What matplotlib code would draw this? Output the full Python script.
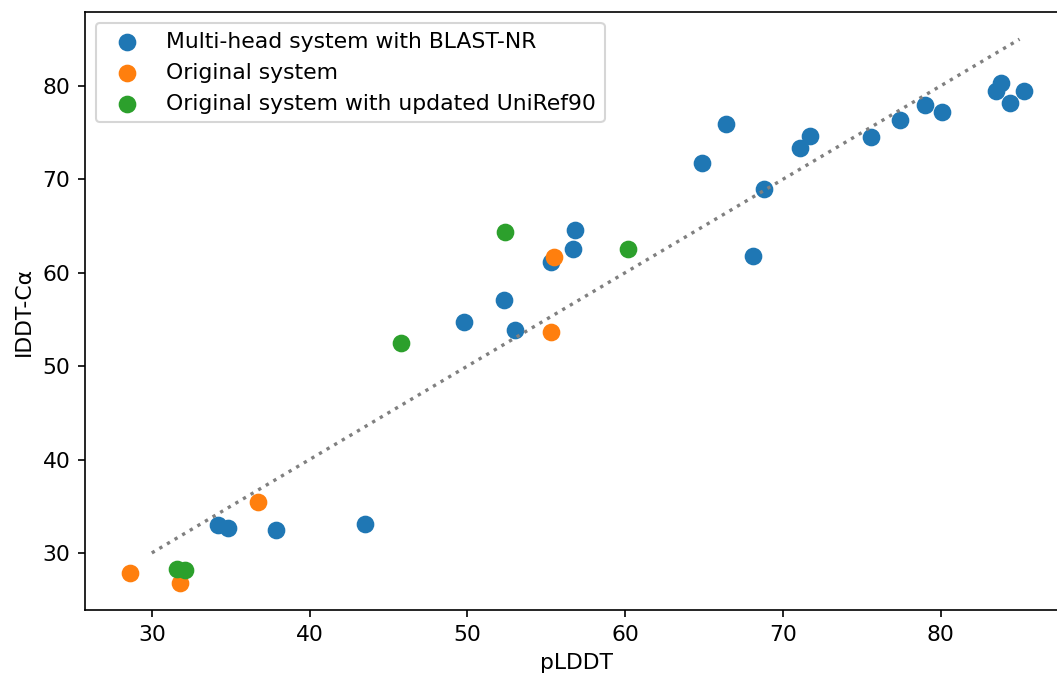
import matplotlib
matplotlib.use("Agg")
import matplotlib.pyplot as plt

# pLDDT vs lDDT-Ca per system
multi_x = [34.2, 34.8, 37.9, 43.5, 49.8, 52.3, 53.0, 55.3, 56.7, 56.8,
           64.9, 66.4, 68.1, 68.8, 71.1, 71.7, 75.6, 77.4, 79.0, 80.1,
           83.5, 83.8, 84.4, 85.3]
multi_y = [33.0, 32.7, 32.5, 33.1, 54.7, 57.1, 53.9, 61.1, 62.5, 64.6,
           71.7, 75.9, 61.8, 69.0, 73.4, 74.6, 74.5, 76.3, 78.0, 77.2,
           79.5, 80.3, 78.2, 79.4]

orig_x = [28.6, 31.8, 36.7, 55.5, 55.3]
orig_y = [27.8, 26.8, 35.5, 61.7, 53.6]

uniref_x = [31.6, 32.1, 45.8, 52.4, 60.2]
uniref_y = [28.3, 28.2, 52.5, 64.4, 62.5]

diag = [30, 85]

LABELS = ["Multi-head system with BLAST-NR", "Original system",
          "Original system with updated UniRef90"]

plt.rcParams["font.size"] = 10.5

fig = plt.figure(figsize=(1057 / 150, 676 / 150), dpi=150)
ax = fig.add_axes([85 / 1057, 66 / 676, 984 / 1057, 598 / 676])

ax.scatter(multi_x, multi_y, s=56, label=LABELS[0])
ax.scatter(orig_x, orig_y, s=56, label=LABELS[1])
ax.scatter(uniref_x, uniref_y, s=56, label=LABELS[2])
ax.plot(diag, diag, color="gray", linestyle=":", linewidth=1.6)

ax.set_xlabel("pLDDT")
ax.set_ylabel("IDDT-C\u03b1")
ax.legend(loc="upper left")

fig.savefig("out.png", dpi=150)
